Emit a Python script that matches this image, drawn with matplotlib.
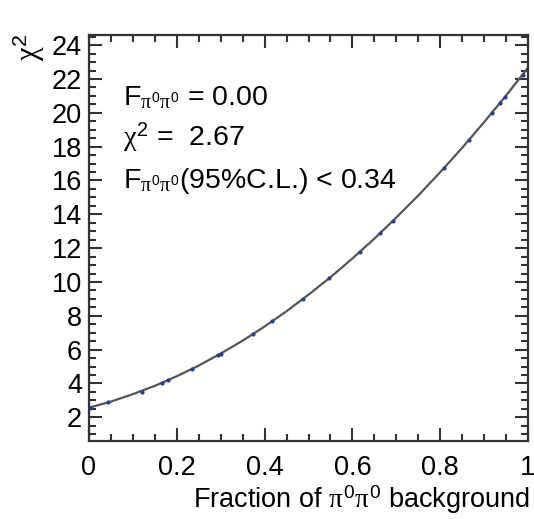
import matplotlib
matplotlib.use("Agg")
import matplotlib.pyplot as plt
from matplotlib.ticker import MultipleLocator

plt.rcParams['font.family'] = ['Liberation Sans', 'DejaVu Sans']
plt.rcParams['mathtext.fontset'] = 'custom'
plt.rcParams['mathtext.rm'] = 'Liberation Sans'
plt.rcParams['mathtext.it'] = 'Liberation Serif'
plt.rcParams['mathtext.bf'] = 'Liberation Sans:bold'

# curve
curve_x = [0.0, 0.05, 0.1, 0.15, 0.2, 0.25, 0.3, 0.35, 0.4, 0.45, 0.5,
           0.55, 0.6, 0.65, 0.7, 0.75, 0.8, 0.85, 0.9, 0.95, 1.0]
curve_y = [2.57, 2.93, 3.37, 3.86, 4.43, 5.06, 5.77, 6.53, 7.37, 8.27, 9.25,
           10.28, 11.39, 12.56, 13.81, 15.11, 16.49, 17.93, 19.45, 21.02, 22.67]

# scan points (small dots)
pts_x = [0.002, 0.043, 0.12, 0.166, 0.18, 0.235, 0.294, 0.30, 0.374,
         0.417, 0.487, 0.547, 0.617, 0.663, 0.692,
         0.809, 0.866, 0.918, 0.936, 0.948, 0.989]
pts_y = [2.58, 2.88, 3.52, 4.03, 4.19, 4.87, 5.69, 5.77, 6.93,
         7.67, 9.00, 10.22, 11.79, 12.87, 13.60,
         16.76, 18.40, 20.01, 20.57, 20.95, 22.26]

xticks = [0, 0.2, 0.4, 0.6, 0.8, 1]
xticklabels = ['0', '0.2', '0.4', '0.6', '0.8', '1']
yticks = [2, 4, 6, 8, 10, 12, 14, 16, 18, 20, 22, 24]

W, H = 534, 519
fig = plt.figure(figsize=(W / 100, H / 100), dpi=100)
ax = fig.add_axes([89 / W, 1 - 441 / H, (528 - 89) / W, (441 - 35) / H])

ax.plot(curve_x, curve_y, color='#555555', lw=1.6, zorder=2)
ax.plot(pts_x, pts_y, ls='none', marker='o', ms=2.0, color='#2a3f8f', zorder=3)

ax.set_xlim(0, 1)
ax.set_ylim(0.6, 24.6)
ax.set_xticks(xticks)
ax.set_xticklabels(xticklabels)
ax.set_yticks(yticks)
ax.xaxis.set_minor_locator(MultipleLocator(0.05))
ax.yaxis.set_minor_locator(MultipleLocator(0.5))

for s in ax.spines.values():
    s.set_linewidth(1.6)
    s.set_color('#333333')

ax.tick_params(which='both', direction='in', top=True, right=True,
               color='#333333', width=1.5)
ax.tick_params(which='major', length=9.5, labelsize=19.5)
ax.tick_params(axis='x', which='major', pad=10)
ax.tick_params(axis='y', which='major', pad=5)
ax.tick_params(which='minor', length=5)

fs = 20.5
tx = 123 / W
fig.text(tx, 1 - 105 / H, r'F$_{\pi^0\pi^0}$ = 0.00', fontsize=fs, va='baseline', ha='left')
fig.text(tx, 1 - 145 / H, r'$\chi^2$ =  2.67', fontsize=fs, va='baseline', ha='left')
fig.text(tx, 1 - 188 / H, r'F$_{\pi^0\pi^0}$(95%C.L.) < 0.34', fontsize=fs, va='baseline', ha='left')

fig.text(530 / W, 1 - 508 / H, r'Fraction of $\pi^0\pi^0$ background', fontsize=19.5,
         va='baseline', ha='right')
fig.text(29 / W, 1 - 33 / H, r'$\chi^2$', fontsize=22, rotation=90, va='top', ha='center')

fig.savefig('out.png', dpi=100)
